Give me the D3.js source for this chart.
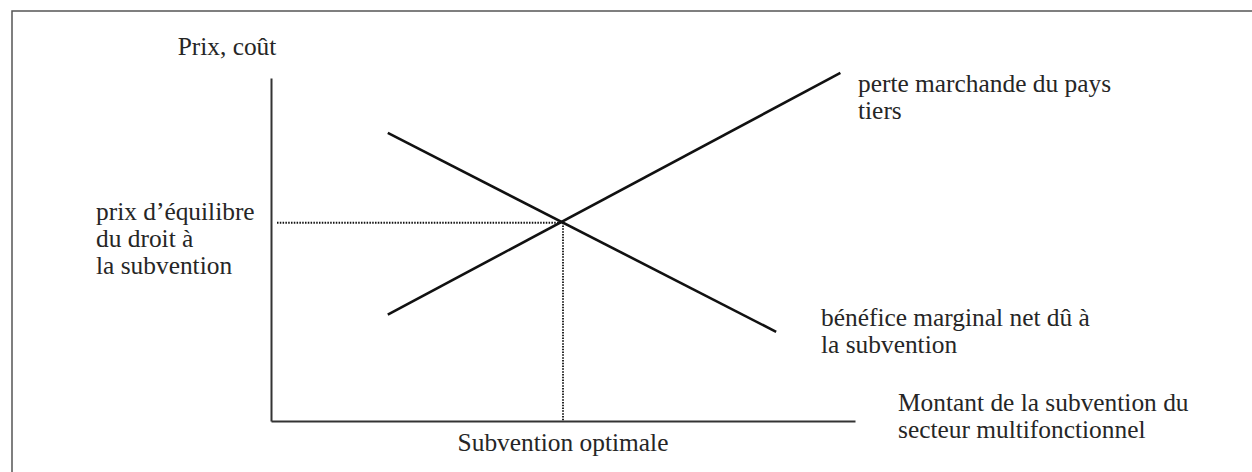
<!DOCTYPE html>
<html>
<head>
<meta charset="utf-8">
<script src="https://cdn.jsdelivr.net/npm/d3@7"></script>
<style>
  body { margin: 0; background: #fff; }
  svg text { font-family: 'Liberation Serif', 'Times New Roman', serif; font-size: 25.4px; fill: #262626; }
</style>
</head>
<body>
<svg id="chart" width="1252" height="472"></svg>
<script>
// MARK: data (abstract units)

const beneficeMarginal = [ { x: 2.0, y: 8.4 }, { x: 8.65, y: 2.6 } ]
const perteMarchande   = [ { x: 2.0, y: 3.1 }, { x: 9.75, y: 10.15 } ]
const equilibre        = { x: 5.0, y: 5.78 }

const labelPerte     = ['perte marchande du pays', 'tiers']
const labelBenefice  = ['bénéfice marginal net dû à', 'la subvention']
const labelPrix      = ['prix d’équilibre', 'du droit à', 'la subvention']
const labelAxeX      = ['Montant de la subvention du', 'secteur multifonctionnel']
const labelAxeY      = 'Prix, coût'
const labelOptimale  = 'Subvention optimale'

// MARK: layout

const svg = d3.select('#chart')
const LINE_H = 27

const x = d3.scaleLinear().domain([0, 10]).range([271, 855])
const y = d3.scaleLinear().domain([0, 10]).range([421, 78])

// frame (cropped on right and bottom in the original)
svg.append('rect')
  .attr('x', 12).attr('y', 11)
  .attr('width', 1300).attr('height', 500)
  .attr('fill', 'none')
  .attr('stroke', '#555')
  .attr('stroke-width', 1.5)

// axes without ticks
svg.append('g')
  .attr('transform', `translate(0,${y(0)})`)
  .call(d3.axisBottom(x).tickValues([]).tickSizeOuter(0))
svg.append('g')
  .attr('transform', `translate(${x(0)},0)`)
  .call(d3.axisLeft(y).tickValues([]).tickSizeOuter(0))
svg.selectAll('.domain')
  .attr('stroke', '#333')
  .attr('stroke-width', 2)

// dotted guides to the equilibrium
const guides = svg.append('g')
  .attr('stroke', '#111')
  .attr('stroke-width', 1.8)
  .attr('stroke-dasharray', '1.5,1.3')
guides.append('line')
  .attr('x1', x(0) + 6).attr('y1', y(equilibre.y))
  .attr('x2', x(equilibre.x)).attr('y2', y(equilibre.y))
guides.append('line')
  .attr('x1', x(equilibre.x)).attr('y1', y(equilibre.y))
  .attr('x2', x(equilibre.x)).attr('y2', y(0))

// curves
const line = d3.line().x((d) => x(d.x)).y((d) => y(d.y))
svg.selectAll('path.curve')
  .data([beneficeMarginal, perteMarchande])
  .enter().append('path')
  .attr('class', 'curve')
  .attr('d', line)
  .attr('fill', 'none')
  .attr('stroke', '#111')
  .attr('stroke-width', 2.6)

// MARK: labels

function multiline(lines, px, py, anchor) {
  const t = svg.append('text')
    .attr('x', px).attr('y', py)
    .attr('text-anchor', anchor || 'start')
  t.selectAll('tspan')
    .data(lines).enter().append('tspan')
    .attr('x', px)
    .attr('dy', (d, i) => i === 0 ? 0 : LINE_H)
    .text((d) => d)
  return t
}

multiline([labelAxeY], 227, 55, 'middle')
multiline(labelPerte, 858, 92)
multiline(labelPrix, 96, 220)
multiline(labelBenefice, 821, 326)
multiline(labelAxeX, 898, 411)
multiline([labelOptimale], x(equilibre.x), 451, 'middle')
</script>
</body>
</html>
